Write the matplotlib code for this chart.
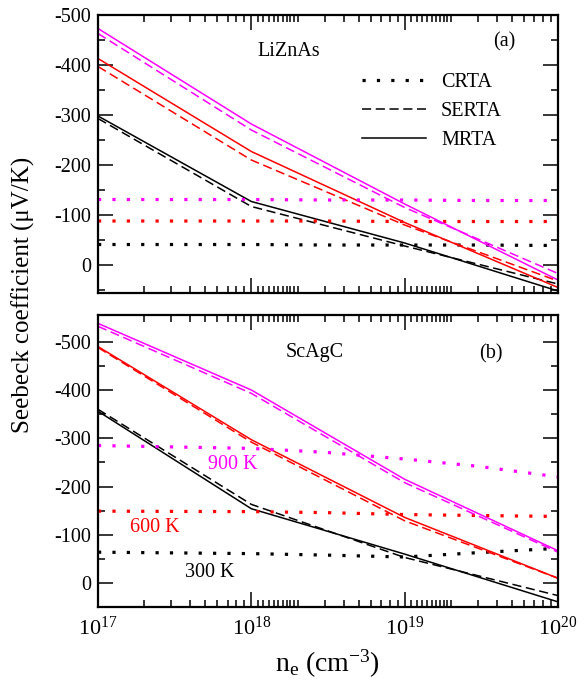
import numpy as np
import matplotlib
matplotlib.use('Agg')
import matplotlib.pyplot as plt
from matplotlib.lines import Line2D
from matplotlib.ticker import NullFormatter

plt.rcParams['font.family'] = ['Liberation Serif', 'DejaVu Serif']
plt.rcParams['mathtext.fontset'] = 'custom'
plt.rcParams['mathtext.rm'] = 'Liberation Serif'
plt.rcParams['mathtext.it'] = 'Liberation Serif:italic'
plt.rcParams['axes.unicode_minus'] = False

# carrier concentration (cm^-3)
n_rta = [1e17, 1e18, 1e19, 1e20]
n_crta = [1e17, 1e18, 3e18, 1e19, 3e19, 1e20]

# (a) LiZnAs, Seebeck in uV/K (negative = n-type)
a_mrta_300 = [-298, -127, -44, 52]
a_serta_300 = [-293, -117, -38, 38]
a_mrta_600 = [-413, -227, -85, 45]
a_serta_600 = [-397, -210, -80, 32]
a_mrta_900 = [-473, -282, -122, 30]
a_serta_900 = [-463, -270, -115, 17]
a_crta_300 = [-41, -41, -40, -40, -40, -39]
a_crta_600 = [-88, -88, -88, -87, -87, -87]
a_crta_900 = [-131, -131, -130, -130, -129, -129]

# (b) ScAgC
b_mrta_300 = [-356, -154, -60, 39]
b_serta_300 = [-360, -163, -53, 26]
b_mrta_600 = [-490, -297, -136, -10]
b_serta_600 = [-488, -292, -129, -10]
b_mrta_900 = [-538, -400, -215, -67]
b_serta_900 = [-532, -393, -208, -64]
b_crta_300 = [-64, -61, -58, -54, -63, -72]
b_crta_600 = [-149, -148, -146, -142, -140, -138]
b_crta_900 = [-285, -279, -271, -257, -242, -220]

yticks = [-500, -400, -300, -200, -100, 0]
yticklabels = ['-500', '-400', '-300', '-200', '-100', '0']
xticks = [1e17, 1e18, 1e19, 1e20]
xticklabels = [r'$\mathregular{10^{17}}$', r'$\mathregular{10^{18}}$',
               r'$\mathregular{10^{19}}$', r'$\mathregular{10^{20}}$']

colors = {'300': 'black', '600': '#ff0000', '900': '#ff00ff'}
dot = (0, (1, 3.5))
dash = (0, (6, 3))

# minor x ticks: 2..9 each decade, plus 1.1..1.9 after 1e18 and 1e19
xminor = [m * 10.0**d for d in (17, 18, 19) for m in range(2, 10)]
xminor += [m / 10 * 10.0**d for d in (18, 19) for m in range(11, 20)]

fig = plt.figure(figsize=(5.87, 6.83), dpi=100)
axA = fig.add_axes([0.167, 0.571, 0.7836, 0.407])
axB = fig.add_axes([0.167, 0.111, 0.7836, 0.4275])


def draw(ax, mrta, serta, crta):
    for T, m, s, c in zip(['300', '600', '900'], mrta, serta, crta):
        col = colors[T]
        ax.plot(n_rta, m, color=col, lw=1.1, ls='-')
        ax.plot(n_rta, s, color=col, lw=1.1, ls=dash)
        ax.plot(n_crta, c, color=col, lw=2.3, ls=dot)


draw(axA, [a_mrta_300, a_mrta_600, a_mrta_900],
     [a_serta_300, a_serta_600, a_serta_900],
     [a_crta_300, a_crta_600, a_crta_900])
draw(axB, [b_mrta_300, b_mrta_600, b_mrta_900],
     [b_serta_300, b_serta_600, b_serta_900],
     [b_crta_300, b_crta_600, b_crta_900])

axA.set_ylim(56, -500)
axB.set_ylim(48, -555)

for ax in (axA, axB):
    ax.set_xscale('log')
    ax.set_xlim(1e17, 1e20)
    ax.set_xticks(xticks)
    ax.set_xticks(xminor, minor=True)
    ax.xaxis.set_minor_formatter(NullFormatter())
    ax.set_yticks(yticks)
    ax.set_yticks([-450, -350, -250, -150, -50, 50], minor=True)
    ax.yaxis.set_minor_formatter(NullFormatter())
    ax.tick_params(which='both', direction='in', top=True, right=True, width=1.1)
    ax.tick_params(which='major', length=11)
    ax.tick_params(which='minor', length=5)
    ax.tick_params(axis='y', labelsize=14.5, pad=5)
    ax.tick_params(axis='x', labelsize=16, pad=7)
    for sp in ax.spines.values():
        sp.set_linewidth(1.6)
    ax.set_yticklabels(yticklabels)

axA.set_xticklabels([])
axB.set_xticklabels(xticklabels)

fs = 14.5
axA.text(0.415, 0.868, 'LiZnAs', transform=axA.transAxes, fontsize=fs, ha='center', va='center')
axA.text(0.883, 0.905, '(a)', transform=axA.transAxes, fontsize=fs, ha='center', va='center')
axB.text(0.47, 0.871, 'ScAgC', transform=axB.transAxes, fontsize=fs, ha='center', va='center')
axB.text(0.855, 0.868, '(b)', transform=axB.transAxes, fontsize=fs, ha='center', va='center')
axB.text(0.293, 0.488, '900 K', transform=axB.transAxes, fontsize=fs, ha='center', va='center', color='#ff00ff')
axB.text(0.124, 0.272, '600 K', transform=axB.transAxes, fontsize=fs, ha='center', va='center', color='#ff0000')
axB.text(0.243, 0.118, '300 K', transform=axB.transAxes, fontsize=fs, ha='center', va='center', color='black')

handles = [Line2D([], [], color='black', lw=2.3, ls=dot),
           Line2D([], [], color='black', lw=1.1, ls=dash),
           Line2D([], [], color='black', lw=1.1, ls='-')]
axA.legend(handles, ['CRTA', 'SERTA', 'MRTA'], loc='upper left', frameon=False,
           bbox_to_anchor=(362 / 587, 1 - 73 / 683), bbox_transform=fig.transFigure,
           borderpad=0, borderaxespad=0, handlelength=3.2, handletextpad=0.72,
           labelspacing=0.5, fontsize=fs)

fig.text(23 / 587, 1 - 295 / 683, 'Seebeck coefficient (\u03bcV/K)', rotation=90,
         ha='center', va='center', fontsize=18)
fig.text(327 / 587, 1 - 664 / 683, r'n$_\mathregular{e}$ (cm$^\mathregular{-3}$)',
         ha='center', va='center', fontsize=20)

fig.savefig('out.png', dpi=100)
